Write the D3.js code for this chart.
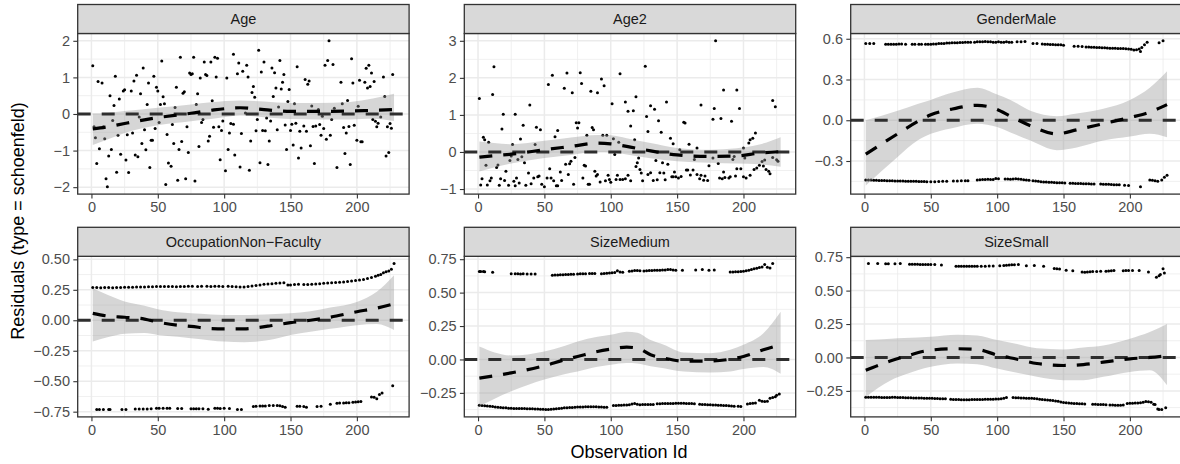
<!DOCTYPE html>
<html><head><meta charset="utf-8">
<script src="https://cdn.jsdelivr.net/npm/d3@7"></script>
<style>body{margin:0;background:#fff}svg{display:block}</style>
</head><body><svg id="c" width="1180" height="464"></svg>
<script>
const panelNames = ["Age","Age2","GenderMale","OccupationNon\u2212Faculty","SizeMedium","SizeSmall"];
const xTicks = [0,50,100,150,200];
const yTicks = [[-2,-1,0,1,2],[-1,0,1,2,3],[-0.3,0,0.3,0.6],[-0.75,-0.5,-0.25,0,0.25,0.5],[-0.25,0,0.25,0.5,0.75],[-0.25,0,0.25,0.5,0.75]];
const yFormats = ["d","d",".1f",".2f",".2f",".2f"];

// residuals: [observation id, residual]
const agePts = [[1,1.32],[5,0.89],[8,0.85],[18,1.03],[14,0.5],[17,0.23],[21,0.41],[24,0.63],[25,0.66],[30,0.63],[32,0.9],[34,1.06],[39,1.26],[37,0.55],[43,0.85],[47,1.03],[42,0.26],[49,0.73],[50,0.63],[54,0.47],[52,0.26],[55,0.28],[53,1.45],[64,0.73],[70,0.61],[69,0.57],[67,1.55],[77,1.55],[80,0.55],[79,0.26],[63,0.18],[74,1.12],[76,1.1],[75,1.08],[85,1.42],[90,1.42],[93,1.55],[95,1.52],[82,0.98],[86,1.08],[87,1.05],[94,1.01],[91,0.36],[102,0.98],[107,1.63],[111,1.39],[110,1.1],
[2,-0.35],[3,-0.65],[9,-0.35],[10,-0.68],[6,-0.95],[4,-1.35],[11,-1.77],[12,-1.99],[15,-0.97],[13,-1.15],[19,-1.59],[20,-0.58],[22,-1.1],[26,-1.26],[28,-1.6],[27,-0.57],[31,-0.52],[33,-1.12],[35,-1.17],[38,-0.81],[41,-0.98],[44,-1.46],[40,-0.43],[45,-0.72],[46,-0.72],[48,-0.4],[51,-0.23],[57,-0.56],[61,-0.29],[58,-1.34],[60,-1.43],[56,-1.93],[62,-0.81],[66,-0.97],[68,-0.75],[65,-1.81],[71,-1.77],[72,-0.35],[73,-1.05],[78,-1.83],[81,-0.89],[84,-0.15],[83,-0.23],[88,-0.74],[89,-0.61],[92,-0.36],[96,-0.35],[97,-1.25],[99,-0.19],[98,-0.45],[101,-1.55],[103,-0.97],[105,-0.26],[107,-0.28],[104,-0.52],[108,-1.12],[113,-0.53],[112,-1.45],[16,-0.18],[36,-0.08],
[114,1.17],[117,1.33],[118,1.01],[126,1.74],[128,1.15],[130,1.42],[136,1.26],[138,1.13],[142,1.46],[145,1.08],[144,0.87],[122,0.75],[121,0.59],[123,0.46],[139,0.71],[143,0.68],[149,0.67],[137,0.48],[148,0.34],[153,0.28],[141,0.19],[155,1.29],[161,0.94],[164,0.9],[163,0.81],[166,0.22],[179,2.0],[176,1.33],[178,1.46],[182,1.35],[188,0.87],[189,0.28],[193,0.37],[196,1.51],[197,0.85],[202,0.92],[206,0.87],[207,1.25],[209,1.33],[211,1.12],[208,0.71],[210,0.75],[213,0.89],[201,0.21],[221,0.48],[220,1.01],[227,1.08],[183,0.16],[171,0.12],
[120,-0.74],[119,-1.54],[116,0.03],[125,-0.15],[124,-0.46],[127,-1.33],[129,-0.45],[131,-0.46],[132,-0.11],[133,-1.38],[134,-0.74],[135,-0.19],[140,-0.43],[146,-0.3],[147,-0.97],[150,-0.45],[151,-0.28],[152,-0.85],[154,-0.25],[156,-1.2],[157,-0.47],[158,-0.93],[160,-0.33],[162,-0.47],[165,-0.87],[167,-0.34],[168,-1.35],[169,-0.33],[172,-0.29],[173,-0.58],[175,-0.4],[177,-0.69],[180,-0.58],[181,-0.15],[185,-1.46],[190,-0.37],[192,-0.52],[191,-1.08],[194,-0.34],[195,-1.38],[198,-0.31],[200,-0.72],[203,-0.76],[204,-0.76],[212,-0.15],[214,-0.2],[215,-0.35],[216,-0.25],[218,-0.08],[222,-1.15],[224,-1.05],[223,-0.35],[225,-0.26],[226,-0.39],[174,-0.06]];

const age2Pts = [[1,1.44],[4,0.4],[5,0.33],[8,0.26],[11,1.55],[12,2.3],[19,1.02],[18,0.62],[26,0.2],[28,1.02],[32,0.35],[34,0.72],[39,1.27],[44,0.67],[47,0.6],[43,0.2],[53,1.82],[56,2.07],[58,0.41],[60,0.58],[65,1.72],[67,2.13],[71,1.6],[74,0.79],[76,0.79],[75,0.65],[77,2.14],[78,1.85],[82,0.45],[85,1.64],[86,0.66],[87,0.6],[90,1.6],[93,1.97],[95,1.79],[94,0.45],[97,0.45],[101,1.3],[102,0.36],[107,2.11],[111,1.35],[113,1.1],[115,0.7],[106,0.26],
[2,-0.89],[3,-0.72],[6,-0.36],[7,-0.89],[9,-0.78],[10,-0.7],[14,-0.42],[15,-0.35],[16,-0.9],[17,-0.72],[21,-0.52],[20,-0.77],[23,-0.9],[24,-0.23],[27,-0.79],[28,-0.91],[30,-0.2],[29,-0.7],[31,-0.84],[33,-0.13],[36,-0.9],[38,-0.57],[40,-0.86],[42,-0.7],[45,-0.67],[46,-0.65],[48,-0.87],[50,-0.94],[52,-0.7],[54,-0.45],[55,-0.7],[57,-0.78],[59,-0.91],[60,-0.91],[62,-0.54],[63,-0.77],[66,-0.33],[68,-0.61],[69,-0.32],[70,-0.25],[72,-0.87],[73,-0.15],[79,-0.7],[80,-0.36],[81,-0.38],[83,-0.87],[84,-0.87],[88,-0.52],[89,-0.65],[90,-0.61],[92,-0.81],[96,-0.78],[98,-0.63],[99,-0.74],[100,-0.82],[103,-0.07],[104,-0.74],[105,-0.63],[107,-0.74],[109,-0.74],[111,-0.72],[113,-0.63],[25,-0.11],[35,-0.29],
[117,1.11],[119,1.49],[118,0.33],[126,2.31],[127,0.96],[128,0.55],[130,1.25],[133,1.15],[136,0.84],[138,0.53],[142,1.35],[145,0.37],[147,0.22],[152,0.06],[155,0.8],[156,0.78],[159,0.21],[165,0.11],[168,1.27],[177,0.88],[178,1.17],[179,3.0],[183,0.9],[185,1.67],[191,0.83],[195,1.67],[197,1.17],[200,0.11],[204,0.24],[205,0.33],[207,0.37],[209,0.51],[222,1.39],[224,1.22],
[115,-0.78],[121,-0.16],[120,-0.29],[119,-0.39],[122,-0.47],[123,-0.57],[124,-0.78],[128,-0.61],[130,-0.56],[132,-0.77],[134,-0.23],[135,-0.75],[137,-0.56],[139,-0.29],[140,-0.57],[141,-0.75],[143,-0.33],[146,-0.67],[147,-0.67],[148,-0.54],[149,-0.67],[151,-0.7],[153,-0.66],[157,-0.49],[158,-0.49],[160,-0.62],[162,-0.49],[163,-0.2],[164,-0.12],[165,-0.61],[167,-0.72],[168,-0.63],[170,-0.76],[171,-0.65],[173,-0.77],[174,-0.37],[177,-0.16],[181,-0.31],[182,-0.7],[184,-0.72],[185,-0.54],[186,-0.69],[189,-0.7],[190,-0.67],[192,-0.2],[194,-0.65],[195,-0.45],[193,-0.12],[198,-0.45],[200,-0.67],[202,-0.7],[201,-0.16],[205,-0.63],[208,-0.47],[210,-0.43],[212,-0.36],[214,-0.26],[215,-0.38],[216,-0.22],[217,-0.47],[219,-0.52],[220,-0.59],[222,-0.15],[225,-0.21],[226,-0.25]];

const genderPts = [[1,.565],[4,.565],[7,.565],[16,.56],[18,.56],[20,.56],[22,.56],[24,.56],[26,.562],[28,.562],[31,.56],[36,.56],[38,.56],[41,.56],[43,.56],[46,.56],[48,.56],[50,.56],[52,.562],[54,.562],[56,.565],[58,.565],[60,.565],[62,.568],[64,.568],[66,.57],[68,.57],[70,.57],[72,.572],[74,.572],[76,.575],[78,.575],[80,.575],[83,.575],[85,.578],[87,.578],[89,.578],[91,.58],[93,.578],[95,.578],[97,.575],[99,.575],[101,.578],[103,.575],[105,.575],[107,.578],[109,.575],[111,.575],[115,.578],[118,.578],[121,.58],[127,.565],[130,.565],[134,.562],[136,.56],[138,.56],[140,.558],[142,.558],[144,.556],[146,.555],[148,.555],[150,.553],[158,.545],[161,.545],[164,.543],[167,.54],[169,.54],[171,.538],[173,.537],[175,.536],[177,.535],[179,.534],[181,.533],[183,.532],[185,.531],[187,.53],[189,.53],[191,.529],[193,.528],[195,.528],[197,.527],[199,.525],[201,.522],[203,.518],[205,.52],[207,.525],[208,.507],[209,.535],[211,.555],[213,.575],[222,.57],[225,.585],
[1,-.44],[3,-.44],[5,-.44],[7,-.442],[9,-.442],[11,-.444],[13,-.444],[15,-.444],[17,-.446],[19,-.446],[21,-.446],[23,-.447],[25,-.447],[27,-.448],[29,-.448],[31,-.449],[33,-.45],[35,-.45],[37,-.45],[39,-.45],[41,-.451],[43,-.451],[45,-.451],[47,-.452],[50,-.452],[53,-.452],[56,-.451],[59,-.45],[62,-.45],[67,-.448],[70,-.448],[73,-.446],[76,-.445],[78,-.445],[85,-.44],[87,-.438],[89,-.437],[91,-.436],[93,-.435],[95,-.436],[97,-.437],[99,-.428],[101,-.43],[106,-.432],[108,-.433],[110,-.435],[112,-.433],[114,-.431],[116,-.432],[118,-.435],[120,-.438],[122,-.44],[124,-.442],[127,-.445],[129,-.448],[131,-.45],[133,-.452],[135,-.454],[137,-.455],[139,-.456],[141,-.457],[143,-.458],[145,-.46],[147,-.46],[149,-.461],[151,-.462],[155,-.463],[157,-.464],[159,-.465],[161,-.465],[163,-.466],[165,-.467],[167,-.468],[169,-.468],[171,-.469],[173,-.47],[178,-.47],[180,-.471],[182,-.472],[184,-.472],[186,-.473],[188,-.474],[190,-.475],[192,-.475],[196,-.478],[199,-.48],[208,-.49],[215,-.44],[217,-.441],[219,-.445],[221,-.45],[224,-.44],[226,-.42],[228,-.405]];

const occPts = [[1,.268],[4,.268],[7,.267],[10,.268],[13,.268],[16,.267],[19,.268],[22,.268],[25,.27],[28,.27],[31,.27],[34,.272],[37,.273],[40,.274],[43,.275],[46,.275],[49,.277],[52,.278],[55,.277],[58,.278],[61,.277],[64,.276],[67,.277],[70,.278],[73,.28],[76,.28],[80,.278],[83,.28],[87,.28],[90,.278],[93,.279],[96,.28],[99,.278],[103,.279],[106,.277],[109,.275],[112,.272],[115,.274],[118,.278],[121,.282],[124,.285],[127,.29],[130,.295],[133,.297],[136,.3],[139,.303],[142,.305],[145,.308],[148,.29],[150,.29],[153,.293],[156,.295],[160,.293],[163,.293],[166,.295],[169,.298],[172,.3],[175,.303],[178,.305],[181,.307],[184,.31],[187,.312],[190,.315],[193,.318],[196,.322],[199,.326],[202,.33],[205,.335],[208,.342],[211,.35],[214,.362],[216,.37],[218,.375],[220,.39],[222,.398],[224,.405],[226,.418],[228,.465],
[4,-.733],[6,-.733],[9,-.733],[13,-.733],[14,-.733],[23,-.733],[26,-.733],[33,-.728],[36,-.728],[39,-.728],[42,-.728],[45,-.727],[49,-.722],[51,-.722],[54,-.722],[57,-.722],[59,-.722],[65,-.724],[68,-.724],[75,-.725],[77,-.725],[79,-.726],[81,-.725],[84,-.726],[88,-.73],[93,-.722],[95,-.722],[97,-.723],[100,-.722],[104,-.724],[110,-.733],[113,-.733],[122,-.708],[124,-.706],[127,-.704],[129,-.703],[131,-.704],[134,-.7],[137,-.7],[140,-.7],[142,-.702],[144,-.708],[146,-.714],[155,-.706],[157,-.706],[160,-.708],[162,-.714],[170,-.707],[173,-.706],[180,-.69],[185,-.68],[187,-.679],[190,-.678],[192,-.677],[194,-.676],[197,-.672],[199,-.67],[201,-.669],[203,-.667],[211,-.63],[213,-.632],[215,-.643],[217,-.61],[219,-.597],[227,-.537]];

const mediumPts = [[1,.658],[2,.658],[4,.657],[5,.656],[11,.653],[25,.642],[28,.641],[30,.641],[32,.64],[34,.641],[37,.64],[40,.64],[43,.64],[56,.63],[58,.631],[60,.632],[62,.633],[64,.634],[66,.635],[68,.636],[70,.637],[72,.638],[75,.64],[77,.641],[79,.642],[81,.642],[84,.643],[86,.643],[88,.643],[93,.642],[95,.643],[97,.645],[99,.646],[101,.648],[103,.65],[105,.663],[107,.655],[109,.652],[114,.66],[116,.662],[118,.665],[120,.665],[122,.664],[125,.662],[127,.664],[129,.665],[131,.666],[133,.667],[135,.668],[137,.668],[139,.669],[141,.67],[143,.672],[145,.672],[147,.67],[149,.668],[154,.668],[164,.67],[169,.672],[174,.668],[178,.67],[190,.655],[192,.655],[194,.656],[196,.656],[198,.657],[200,.66],[202,.663],[204,.667],[206,.672],[208,.678],[210,.683],[212,.688],[214,.692],[216,.71],[218,.69],[220,.685],[222,.717],
[1,-.342],[3,-.344],[5,-.346],[7,-.348],[9,-.35],[11,-.352],[13,-.355],[15,-.357],[17,-.359],[19,-.361],[21,-.362],[23,-.364],[25,-.365],[27,-.366],[29,-.366],[31,-.367],[33,-.367],[35,-.367],[37,-.368],[39,-.368],[41,-.368],[43,-.37],[45,-.37],[47,-.372],[49,-.373],[51,-.374],[53,-.375],[55,-.372],[57,-.37],[59,-.368],[61,-.366],[63,-.364],[65,-.362],[67,-.361],[69,-.36],[71,-.359],[73,-.358],[75,-.356],[77,-.355],[79,-.355],[81,-.354],[83,-.354],[85,-.353],[87,-.353],[89,-.354],[91,-.355],[93,-.356],[95,-.357],[97,-.358],[102,-.345],[104,-.344],[106,-.343],[108,-.342],[110,-.341],[112,-.34],[114,-.338],[116,-.334],[118,-.33],[120,-.335],[122,-.338],[124,-.337],[126,-.337],[128,-.336],[130,-.336],[132,-.336],[135,-.332],[137,-.331],[139,-.33],[141,-.33],[143,-.33],[145,-.33],[147,-.33],[149,-.328],[151,-.328],[153,-.328],[155,-.328],[157,-.329],[159,-.33],[161,-.33],[163,-.331],[167,-.335],[169,-.336],[171,-.337],[173,-.338],[175,-.339],[177,-.34],[179,-.341],[181,-.342],[183,-.343],[185,-.344],[187,-.345],[189,-.347],[191,-.348],[193,-.35],[196,-.35],[198,-.352],[203,-.333],[205,-.33],[207,-.328],[209,-.325],[212,-.305],[214,-.313],[216,-.315],[218,-.313],[220,-.29],[222,-.285],[224,-.278],[225,-.268],[227,-.258]];

const smallPts = [[3,.702],[10,.702],[16,.701],[18,.701],[23,.701],[27,.702],[34,.698],[36,.697],[38,.697],[40,.697],[42,.696],[44,.696],[46,.696],[48,.696],[50,.696],[53,.695],[58,.692],[69,.683],[71,.682],[73,.682],[75,.682],[77,.682],[79,.682],[81,.682],[83,.682],[85,.682],[88,.683],[91,.683],[94,.684],[97,.684],[102,.686],[105,.688],[107,.69],[109,.692],[111,.693],[113,.694],[116,.695],[122,.686],[128,.688],[135,.682],[143,.665],[145,.664],[147,.662],[152,.652],[157,.648],[164,.64],[166,.638],[168,.64],[170,.641],[172,.642],[175,.643],[178,.645],[182,.645],[184,.646],[186,.648],[188,.65],[195,.649],[197,.65],[199,.65],[202,.651],[207,.65],[214,.64],[220,.6],[222,.612],[223,.62],[225,.664],[226,.632],
[1,-.297],[3,-.297],[5,-.298],[7,-.298],[9,-.298],[11,-.298],[13,-.299],[15,-.299],[17,-.299],[19,-.299],[21,-.298],[23,-.298],[25,-.299],[27,-.3],[29,-.3],[31,-.301],[33,-.302],[35,-.302],[37,-.303],[39,-.303],[41,-.304],[43,-.304],[45,-.305],[47,-.305],[49,-.306],[51,-.306],[53,-.307],[55,-.307],[57,-.308],[59,-.308],[61,-.309],[65,-.313],[67,-.314],[69,-.315],[71,-.315],[73,-.316],[75,-.316],[77,-.316],[79,-.316],[81,-.315],[83,-.315],[85,-.315],[87,-.314],[89,-.314],[91,-.313],[93,-.313],[95,-.312],[97,-.312],[99,-.311],[101,-.31],[103,-.309],[105,-.306],[107,-.3],[112,-.3],[114,-.301],[116,-.302],[118,-.303],[120,-.304],[122,-.305],[124,-.305],[126,-.306],[128,-.307],[130,-.308],[132,-.312],[134,-.314],[136,-.316],[138,-.318],[140,-.32],[142,-.322],[144,-.325],[146,-.328],[148,-.333],[150,-.336],[152,-.338],[154,-.34],[156,-.342],[158,-.344],[160,-.345],[162,-.346],[164,-.347],[166,-.349],[172,-.35],[174,-.35],[176,-.351],[178,-.351],[180,-.352],[182,-.353],[185,-.355],[187,-.356],[189,-.357],[191,-.358],[193,-.357],[195,-.356],[198,-.345],[200,-.343],[202,-.342],[204,-.341],[206,-.34],[208,-.339],[210,-.335],[212,-.33],[214,-.332],[216,-.335],[218,-.35],[219,-.352],[221,-.385],[222,-.39],[224,-.39],[227,-.376]];

// smooth fits: [observation id, fit, lower, upper]
const ageFit = [[1,-0.41,-0.85,0.01],[12,-0.35,-0.70,0.03],[25,-0.26,-0.52,0.08],[50,-0.10,-0.31,0.17],[75,0.02,-0.20,0.26],[90,0.10,-0.14,0.32],[112,0.17,-0.04,0.37],[130,0.12,-0.09,0.34],[150,0.07,-0.14,0.30],[170,0.07,-0.15,0.30],[195,0.08,-0.15,0.33],[212,0.10,-0.13,0.42],[228,0.12,-0.19,0.55]];
const age2Fit = [[1,-0.14,-0.53,0.28],[12,-0.10,-0.42,0.24],[25,-0.06,-0.31,0.21],[50,0.06,-0.16,0.30],[70,0.15,-0.08,0.39],[90,0.24,0.00,0.46],[100,0.22,-0.01,0.45],[112,0.15,-0.07,0.37],[130,0.03,-0.17,0.24],[150,-0.08,-0.25,0.11],[175,-0.12,-0.29,0.06],[195,-0.11,-0.31,0.10],[212,-0.03,-0.33,0.20],[228,0.01,-0.40,0.40]];
const genderFit = [[1,-0.25,-0.48,0.0],[25,-0.1,-0.27,0.07],[40,-0.01,-0.15,0.12],[50,0.04,-0.1,0.15],[65,0.08,-0.06,0.2],[85,0.11,-0.025,0.24],[100,0.08,-0.05,0.19],[110,0.03,-0.09,0.15],[125,-0.04,-0.15,0.07],[145,-0.1,-0.22,0.03],[160,-0.07,-0.2,0.05],[180,-0.025,-0.15,0.085],[200,0.02,-0.12,0.15],[215,0.06,-0.1,0.24],[228,0.115,-0.125,0.36]];
const occFit = [[1,0.057,-0.175,0.26],[12,0.035,-0.14,0.21],[25,0.025,-0.11,0.155],[40,0.01,-0.105,0.12],[50,-0.015,-0.12,0.09],[65,-0.04,-0.135,0.065],[75,-0.05,-0.147,0.057],[90,-0.068,-0.165,0.048],[100,-0.07,-0.175,0.044],[115,-0.07,-0.18,0.043],[125,-0.06,-0.175,0.045],[135,-0.045,-0.16,0.05],[150,-0.02,-0.12,0.057],[165,0.0,-0.095,0.075],[180,0.025,-0.07,0.105],[200,0.07,-0.04,0.15],[215,0.1,-0.03,0.235],[228,0.135,-0.08,0.37]];
const mediumFit = [[1,-0.14,-0.35,0.097],[25,-0.1,-0.238,0.03],[50,-0.047,-0.15,0.06],[65,-0.003,-0.11,0.1],[75,0.022,-0.09,0.134],[90,0.06,-0.055,0.17],[100,0.077,-0.04,0.184],[112,0.092,-0.027,0.208],[120,0.085,-0.03,0.2],[130,0.035,-0.05,0.145],[140,0.01,-0.065,0.11],[155,-0.012,-0.09,0.052],[175,-0.012,-0.097,0.047],[190,0.002,-0.09,0.072],[200,0.022,-0.072,0.11],[215,0.072,-0.057,0.196],[228,0.11,-0.107,0.357]];
const smallFit = [[1,-0.095,-0.296,0.13],[20,-0.025,-0.17,0.14],[30,0.005,-0.13,0.145],[50,0.055,-0.07,0.155],[70,0.065,-0.045,0.17],[85,0.06,-0.05,0.165],[100,0.018,-0.083,0.13],[115,-0.013,-0.115,0.1],[130,-0.045,-0.145,0.068],[150,-0.06,-0.17,0.06],[165,-0.053,-0.17,0.075],[180,-0.035,-0.145,0.09],[200,-0.01,-0.108,0.14],[215,0.0,-0.095,0.19],[228,0.013,-0.208,0.25]];

const panelPoints = [agePts, age2Pts, genderPts, occPts, mediumPts, smallPts];
const panelFits = [ageFit, age2Fit, genderFit, occFit, mediumFit, smallFit];

const FONT = '"Liberation Sans", Arial, Helvetica, sans-serif';
const colX = [77.7, 464.3, 850.7], rowStrip = [4.5, 227.3];
const stripH = 29, panelW = 331.4, panelH = 160.6;

const svg = d3.select("#c");
svg.append("rect").attr("width",1180).attr("height",464).attr("fill","#fff");

const allX = panelPoints.flat().map(d=>d[0]).concat(panelFits.flat().map(d=>d[0]));
const xe = d3.extent(allX), xp = (xe[1]-xe[0])*0.05;
const x = d3.scaleLinear().domain([xe[0]-xp, xe[1]+xp]).range([0, panelW]);
const xMinor = xTicks.map(v=>v-25).concat([xTicks[xTicks.length-1]+25]).filter(v=>v>=x.domain()[0]&&v<=x.domain()[1]);

panelNames.forEach((name,i)=>{
  const col=i%3, row=Math.floor(i/3);
  const pts=panelPoints[i], fit=panelFits[i];
  const ye = d3.extent(pts.map(d=>d[1]).concat(fit.map(d=>d[2]), fit.map(d=>d[3])));
  const yp = (ye[1]-ye[0])*0.05;
  const y = d3.scaleLinear().domain([ye[0]-yp, ye[1]+yp]).range([panelH,0]);
  const yt = yTicks[i], st = yt[1]-yt[0];
  const yMinor = yt.map(v=>v-st/2).concat([yt[yt.length-1]+st/2]).filter(v=>v>=y.domain()[0]&&v<=y.domain()[1]);

  const g = svg.append("g").attr("transform",`translate(${colX[col]},${rowStrip[row]+stripH})`);
  g.append("rect").attr("width",panelW).attr("height",panelH).attr("fill","#fff");
  const grid = g.append("g").attr("stroke","#EBEBEB");
  grid.selectAll(".ymin").data(yMinor).join("line").attr("x1",0).attr("x2",panelW).attr("y1",d=>y(d)).attr("y2",d=>y(d)).attr("stroke-width",0.75);
  grid.selectAll(".xmin").data(xMinor).join("line").attr("y1",0).attr("y2",panelH).attr("x1",d=>x(d)).attr("x2",d=>x(d)).attr("stroke-width",0.75);
  grid.selectAll(".ymaj").data(yt).join("line").attr("x1",0).attr("x2",panelW).attr("y1",d=>y(d)).attr("y2",d=>y(d)).attr("stroke-width",1.5);
  grid.selectAll(".xmaj").data(xTicks).join("line").attr("y1",0).attr("y2",panelH).attr("x1",d=>x(d)).attr("x2",d=>x(d)).attr("stroke-width",1.5);

  g.append("g").selectAll("circle").data(pts).join("circle")
    .attr("cx",d=>x(d[0])).attr("cy",d=>y(d[1])).attr("r",1.5).attr("fill","#000");

  g.append("path").datum(fit)
    .attr("d", d3.area().x(d=>x(d[0])).y0(d=>y(d[2])).y1(d=>y(d[3])).curve(d3.curveMonotoneX))
    .attr("fill","#999999").attr("fill-opacity",0.4);

  g.append("line").attr("x1",0).attr("x2",panelW).attr("y1",y(0)).attr("y2",y(0))
    .attr("stroke","#2e2e2e").attr("stroke-width",3).attr("stroke-dasharray","13,11");

  g.append("path").datum(fit)
    .attr("d", d3.line().x(d=>x(d[0])).y(d=>y(d[1])).curve(d3.curveMonotoneX))
    .attr("fill","none").attr("stroke","#000").attr("stroke-width",3.2).attr("stroke-dasharray","13,11");

  g.append("rect").attr("width",panelW).attr("height",panelH).attr("fill","none").attr("stroke","#333").attr("stroke-width",1.3);

  g.append("rect").attr("y",-stripH).attr("width",panelW).attr("height",stripH)
    .attr("fill","#D9D9D9").attr("stroke","#333").attr("stroke-width",1.3);
  g.append("text").attr("x",panelW/2).attr("y",-stripH/2).attr("dy","0.36em")
    .attr("text-anchor","middle").attr("font-family",FONT).attr("font-size","14.5px").attr("fill","#1A1A1A").text(name);

  const ya = g.append("g").call(d3.axisLeft(y).tickValues(yt).tickFormat(d3.format(yFormats[i])).tickSize(4.4).tickPadding(3.3));
  const xa = g.append("g").attr("transform",`translate(0,${panelH})`).call(d3.axisBottom(x).tickValues(xTicks).tickFormat(d3.format("d")).tickSize(4.4).tickPadding(3.3));
  [ya,xa].forEach(a=>{
    a.select(".domain").remove();
    a.attr("font-family",FONT).attr("font-size","14.5px");
    a.selectAll(".tick line").attr("stroke","#333").attr("stroke-width",1.1);
    a.selectAll(".tick text").attr("fill","#4D4D4D");
  });
});

svg.append("text").attr("x",629).attr("y",458).attr("text-anchor","middle")
  .attr("font-family",FONT).attr("font-size","18px").attr("fill","#000").text("Observation Id");
svg.append("text").attr("transform","translate(18,221) rotate(-90)").attr("dy","0.35em").attr("text-anchor","middle")
  .attr("font-family",FONT).attr("font-size","18px").attr("fill","#000").text("Residuals (type = schoenfeld)");
</script></body></html>
